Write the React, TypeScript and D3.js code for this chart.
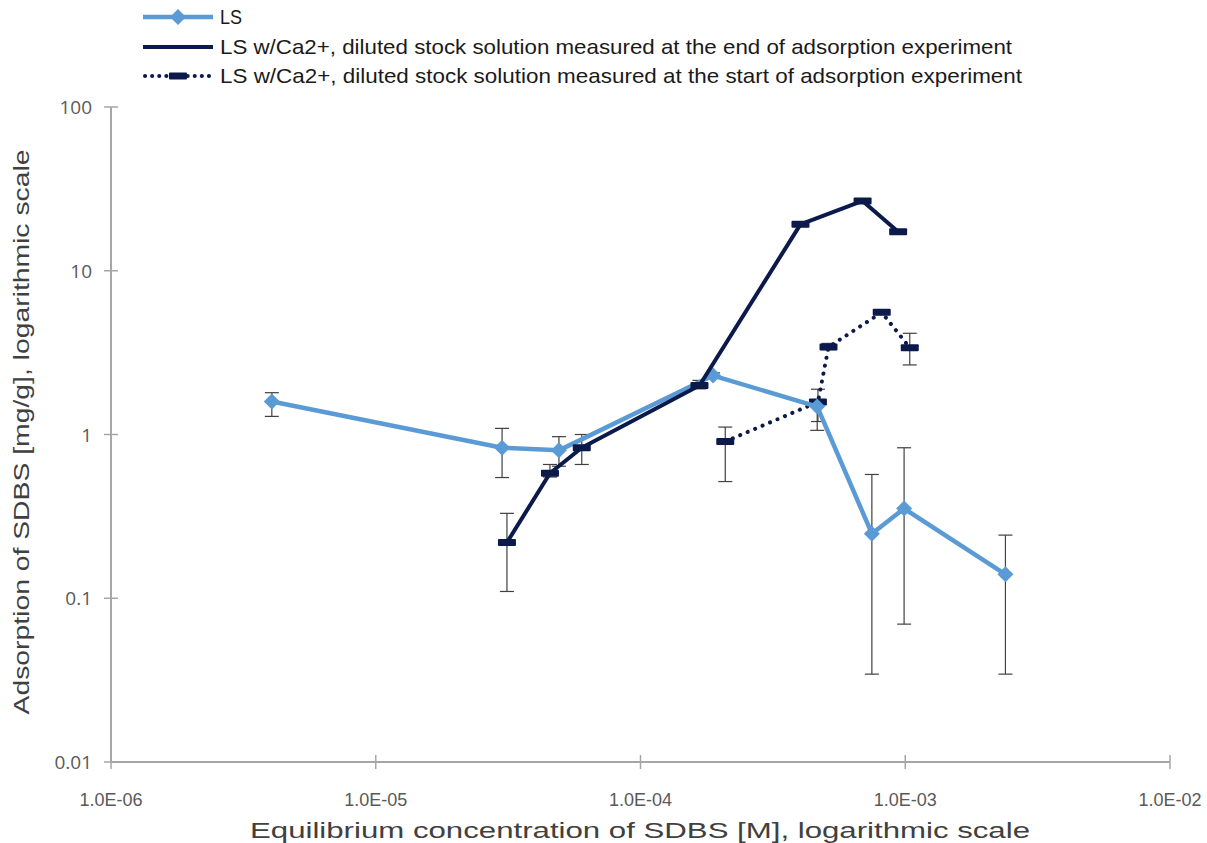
import React from "react";
import * as d3 from "d3";

// LS series
const lsX = [4.05e-6, 3.0e-5, 4.92e-5, 1.88e-4, 4.65e-4, 7.48e-4, 9.9e-4, 2.39e-3];
const lsY = [1.59, 0.83, 0.8, 2.29, 1.48, 0.248, 0.353, 0.14];
const lsHi = [1.8, 1.09, 0.97, 2.38, 1.55, 0.57, 0.83, 0.243];
const lsLo = [1.29, 0.546, 0.64, 2.2, 1.06, 0.0344, 0.0695, 0.0344];

// LS w/Ca2+ end
const endX = [3.13e-5, 4.55e-5, 6.0e-5, 1.67e-4, 4.02e-4, 6.9e-4, 9.4e-4];
const endY = [0.219, 0.58, 0.83, 1.99, 19.2, 26.7, 17.3];
const endHi = [0.33, 0.656, 1.0, 2.14, 19.8, 27.5, 17.8];
const endLo = [0.11, 0.55, 0.656, 1.9, 18.6, 26.0, 16.8];

// LS w/Ca2+ start
const startX = [2.09e-4, 4.68e-4, 5.13e-4, 8.15e-4, 1.04e-3];
const startY = [0.906, 1.58, 3.42, 5.57, 3.39];
const startHi = [1.11, 1.89, 3.6, 5.75, 4.15];
const startLo = [0.516, 1.2, 3.3, 5.4, 2.66];

const xTicks = [1e-6, 1e-5, 1e-4, 1e-3, 1e-2];
const xTickLabels = ["1.0E-06", "1.0E-05", "1.0E-04", "1.0E-03", "1.0E-02"];
const yTicks = [0.01, 0.1, 1, 10, 100];
const yTickLabels = ["0.01", "0.1", "1", "10", "100"];

const legendLabels = [
  "LS",
  "LS w/Ca2+, diluted stock solution measured at the end of adsorption experiment",
  "LS w/Ca2+, diluted stock solution measured at the start of adsorption experiment",
];

const LIGHT = "#5B9BD5";
const NAVY = "#0C1A4B";
const AXIS = "#A6A6A6";
const ERR = "#404040";

export default function App() {
  const x = d3.scaleLog().domain([1e-6, 1e-2]).range([111, 1170]);
  const y = d3.scaleLog().domain([0.01, 100]).range([762, 107]);
  const line = d3
    .line<[number, number]>()
    .x((d) => x(d[0]))
    .y((d) => y(d[1]));

  const errBars = (xs: number[], hi: number[], lo: number[], key: string) =>
    xs.map((v, i) => {
      const cx = x(v);
      return (
        <g key={key + i} stroke={ERR} strokeWidth={1.2}>
          <line x1={cx} x2={cx} y1={y(hi[i])} y2={y(lo[i])} />
          <line x1={cx - 7} x2={cx + 7} y1={y(hi[i])} y2={y(hi[i])} />
          <line x1={cx - 7} x2={cx + 7} y1={y(lo[i])} y2={y(lo[i])} />
        </g>
      );
    });

  const diamond = (cx: number, cy: number, k: string) => (
    <path key={k} d={`M${cx},${cy - 8}L${cx + 8},${cy}L${cx},${cy + 8}L${cx - 8},${cy}Z`} fill={LIGHT} />
  );
  const dash = (cx: number, cy: number, k: string) => (
    <rect key={k} x={cx - 9} y={cy - 3.5} width={18} height={7} fill={NAVY} rx={1} />
  );

  const lsPts = lsX.map((v, i) => [v, lsY[i]] as [number, number]);
  const endPts = endX.map((v, i) => [v, endY[i]] as [number, number]);
  const startPts = startX.map((v, i) => [v, startY[i]] as [number, number]);

  const legendY = [17, 47, 76];
  const legendW = [22, 792, 802];

  return (
    <svg width={1207} height={843} style={{ position: "absolute", left: 0, top: 0, background: "#fff" }}>
      {/* axes */}
      <line x1={111} x2={111} y1={y(100)} y2={y(0.01)} stroke={AXIS} strokeWidth={2} />
      <line x1={x(1e-6)} x2={x(1e-2)} y1={762} y2={762} stroke={AXIS} strokeWidth={2} />
      {yTicks.map((t, i) => (
        <g key={"yt" + i}>
          <line x1={104} x2={118} y1={y(t)} y2={y(t)} stroke={AXIS} strokeWidth={1.5} />
          <text x={92} y={y(t) + 7} textAnchor="end" fontFamily="'Open Sans', sans-serif" fontSize={19} fill="#595959">
            {yTickLabels[i]}
          </text>
        </g>
      ))}
      {xTicks.map((t, i) => (
        <g key={"xt" + i}>
          <line x1={x(t)} x2={x(t)} y1={755} y2={769} stroke={AXIS} strokeWidth={1.5} />
          <text
            x={x(t)}
            y={806}
            textAnchor="middle"
            fontFamily="'Liberation Sans', sans-serif"
            fontSize={18}
            fill="#595959"
          >
            {xTickLabels[i]}
          </text>
        </g>
      ))}
      <text
        x={640}
        y={838}
        textAnchor="middle"
        fontFamily="'Liberation Sans', sans-serif"
        fontSize={22}
        fill="#404040"
        textLength={780}
        lengthAdjust="spacingAndGlyphs"
      >
        Equilibrium concentration of SDBS [M], logarithmic scale
      </text>
      <text
        transform="translate(29,432) rotate(-90)"
        textAnchor="middle"
        fontFamily="'Liberation Sans', sans-serif"
        fontSize={22}
        fill="#404040"
        textLength={565}
        lengthAdjust="spacingAndGlyphs"
      >
        Adsorption of SDBS [mg/g], logarithmic scale
      </text>

      {/* error bars */}
      {errBars(lsX, lsHi, lsLo, "le")}
      {errBars(endX, endHi, endLo, "ee")}
      {errBars(startX, startHi, startLo, "se")}

      {/* lines */}
      <path d={line(startPts) || ""} fill="none" stroke={NAVY} strokeWidth={4} strokeDasharray="0.1 8" strokeLinecap="round" />
      {startPts.map((p, i) => dash(x(p[0]), y(p[1]), "sm" + i))}
      <path d={line(lsPts) || ""} fill="none" stroke={LIGHT} strokeWidth={4.5} strokeLinejoin="round" />
      {lsPts.map((p, i) => diamond(x(p[0]), y(p[1]), "lm" + i))}
      <path d={line(endPts) || ""} fill="none" stroke={NAVY} strokeWidth={4} strokeLinejoin="round" />
      {endPts.map((p, i) => dash(x(p[0]), y(p[1]), "em" + i))}

      {/* legend */}
      <g>
        <line x1={143} x2={213} y1={legendY[0]} y2={legendY[0]} stroke={LIGHT} strokeWidth={4.5} />
        {diamond(178, legendY[0], "lgd")}
        <line x1={143} x2={213} y1={legendY[1]} y2={legendY[1]} stroke={NAVY} strokeWidth={4} />
        <line x1={145} x2={212} y1={legendY[2]} y2={legendY[2]} stroke={NAVY} strokeWidth={4} strokeDasharray="0.1 7" strokeLinecap="round" />
        {dash(178, legendY[2], "sgd")}
        {legendLabels.map((l, i) => (
          <text
            key={"lg" + i}
            x={220}
            y={legendY[i] + 7}
            fontFamily="'Liberation Sans', sans-serif"
            fontSize={21}
            fill="#1a1a1a"
            textLength={legendW[i]}
            lengthAdjust="spacingAndGlyphs"
          >
            {l}
          </text>
        ))}
      </g>
    </svg>
  );
}
